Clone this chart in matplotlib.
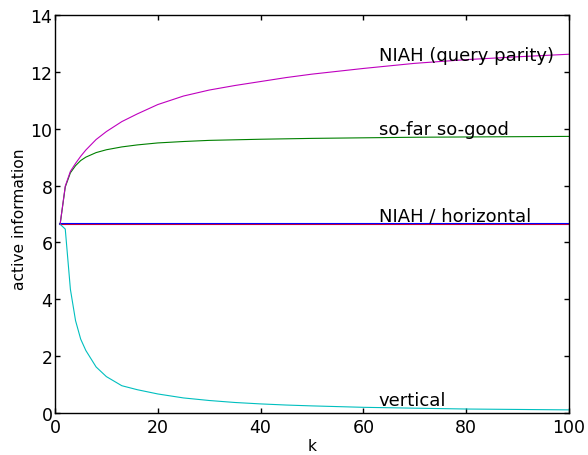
import matplotlib
matplotlib.use("Agg")
import matplotlib.pyplot as plt

# values
k = [1, 2, 3, 4, 5, 6, 8, 10, 13, 16, 20, 25, 30, 35, 40, 45, 50, 60, 70, 80, 90, 100]

niah = [6.64] * len(k)
horizontal = [6.64] * len(k)
so_far = [6.64, 7.95, 8.45, 8.7, 8.88, 9.0, 9.16, 9.26, 9.36, 9.43, 9.5, 9.55,
          9.59, 9.61, 9.63, 9.645, 9.66, 9.68, 9.7, 9.71, 9.72, 9.73]
vertical = [6.64, 6.47, 4.35, 3.25, 2.6, 2.2, 1.62, 1.28, 0.96, 0.82, 0.67, 0.53,
            0.44, 0.37, 0.32, 0.28, 0.25, 0.2, 0.17, 0.14, 0.125, 0.11]
query_parity = [6.64, 7.98, 8.5, 8.78, 9.03, 9.25, 9.62, 9.9, 10.25, 10.52, 10.85,
                11.15, 11.36, 11.52, 11.66, 11.8, 11.92, 12.12, 12.3, 12.43, 12.53, 12.62]

labels = ["NIAH (query parity)", "so-far so-good", "NIAH / horizontal", "vertical"]
label_y = [12.4, 9.8, 6.76, 0.28]

plt.rcParams.update({
    "font.family": "DejaVu Sans",
    "font.size": 11.2,
    "lines.linewidth": 0.8,
})

fig = plt.figure(figsize=(5.88, 4.56), dpi=100)
ax = fig.add_axes([0.0935, 0.0921, 0.8742, 0.8728])

ax.plot(k, niah, color="b", lw=1.5)
ax.plot(k, so_far, color="g")
ax.plot(k, horizontal, color="r", lw=0.55)
ax.plot(k, vertical, color="c")
ax.plot(k, query_parity, color="m")

for text, y in zip(labels, label_y):
    ax.text(63, y, text, fontsize=13, va="baseline", ha="left")

ax.set_xlim(0, 100)
ax.set_ylim(0, 14)
ax.set_xticks([0, 20, 40, 60, 80, 100])
ax.set_yticks([0, 2, 4, 6, 8, 10, 12, 14])
ax.set_xlabel("k")
ax.set_ylabel("active information")
ax.xaxis.set_label_coords(0.5, -0.063)
ax.yaxis.set_label_coords(-0.054, 0.49)
ax.tick_params(direction="in", length=3.4, width=1.0, top=True, right=True,
               labelsize=12.5)
ax.tick_params(axis="x", pad=3.5)
ax.tick_params(axis="y", pad=1.8)
for s in ax.spines.values():
    s.set_linewidth(1.0)

fig.savefig("out.png", dpi=100)
